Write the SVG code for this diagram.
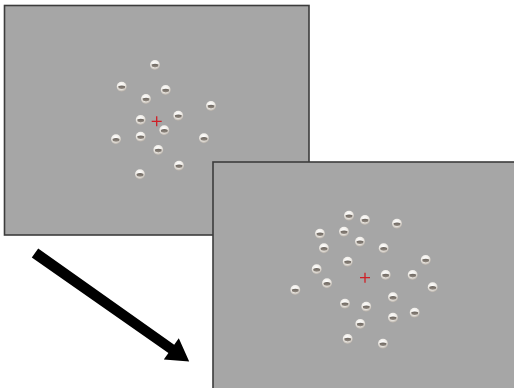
<svg xmlns="http://www.w3.org/2000/svg" xmlns:xlink="http://www.w3.org/1999/xlink" width="514" height="388" viewBox="0 0 514 388">
  <style>
    .panel { fill: #a6a6a6; stroke: #3c3c3c; stroke-width: 1.6; }
    .fix { stroke: #d01f26; stroke-width: 1.3; fill: none; }
  </style>
  <defs>
    <radialGradient id="ballShade" cx="0.45" cy="0.35" r="0.65">
      <stop offset="0" stop-color="#ffffff"/>
      <stop offset="0.6" stop-color="#eeebe6"/>
      <stop offset="1" stop-color="#b3aca4"/>
    </radialGradient>
    <linearGradient id="bandShade" x1="0" y1="0" x2="0" y2="1">
      <stop offset="0" stop-color="#5a534c"/>
      <stop offset="1" stop-color="#8a8178"/>
    </linearGradient>
    <!-- one shiny bead with a dark reflected band -->
    <g id="ball">
      <circle r="5" fill="url(#ballShade)"/>
      <path d="M-3.5,-0.4 Q0,-2.2 3.5,-0.4 L3.1,1.6 Q0,3.2 -3.1,1.6 Z" fill="url(#bandShade)" opacity="0.9"/>
    </g>
    <g id="fixation">
      <path class="fix" d="M-5,0 H5 M0,-5 V5"/>
    </g>
  </defs>

  <rect width="514" height="388" fill="#ffffff"/>

  <!-- first display -->
  <g id="display1">
    <rect class="panel" x="4.5" y="5.5" width="304.5" height="229.5"/>
    <use xlink:href="#ball" x="155" y="65"/>
    <use xlink:href="#ball" x="121.7" y="86.7"/>
    <use xlink:href="#ball" x="165.7" y="90"/>
    <use xlink:href="#ball" x="146" y="99"/>
    <use xlink:href="#ball" x="211" y="106"/>
    <use xlink:href="#ball" x="178.3" y="115.7"/>
    <use xlink:href="#ball" x="140.7" y="120"/>
    <use xlink:href="#ball" x="164.3" y="130.3"/>
    <use xlink:href="#ball" x="116" y="139.3"/>
    <use xlink:href="#ball" x="140.7" y="136.7"/>
    <use xlink:href="#ball" x="204" y="138.3"/>
    <use xlink:href="#ball" x="158.3" y="150"/>
    <use xlink:href="#ball" x="179" y="165.7"/>
    <use xlink:href="#ball" x="140" y="174.3"/>
    <use xlink:href="#fixation" x="156.7" y="121.3"/>
  </g>

  <!-- second display -->
  <g id="display2">
    <rect class="panel" x="213" y="162" width="310" height="240"/>
    <use xlink:href="#ball" x="349" y="215.7"/>
    <use xlink:href="#ball" x="365" y="220"/>
    <use xlink:href="#ball" x="397" y="223.7"/>
    <use xlink:href="#ball" x="320" y="233.7"/>
    <use xlink:href="#ball" x="344" y="231.7"/>
    <use xlink:href="#ball" x="360" y="241.7"/>
    <use xlink:href="#ball" x="383.7" y="248.3"/>
    <use xlink:href="#ball" x="324" y="248.3"/>
    <use xlink:href="#ball" x="425.7" y="260"/>
    <use xlink:href="#ball" x="347.7" y="261.7"/>
    <use xlink:href="#ball" x="316.7" y="269.3"/>
    <use xlink:href="#ball" x="385.7" y="275"/>
    <use xlink:href="#ball" x="412.7" y="275"/>
    <use xlink:href="#ball" x="327" y="283.3"/>
    <use xlink:href="#ball" x="432.7" y="287.3"/>
    <use xlink:href="#ball" x="295.3" y="290"/>
    <use xlink:href="#ball" x="393" y="297.3"/>
    <use xlink:href="#ball" x="345" y="303.7"/>
    <use xlink:href="#ball" x="366.3" y="306.7"/>
    <use xlink:href="#ball" x="414.7" y="312.7"/>
    <use xlink:href="#ball" x="393" y="317.7"/>
    <use xlink:href="#ball" x="360.3" y="324"/>
    <use xlink:href="#ball" x="347.7" y="339"/>
    <use xlink:href="#ball" x="383" y="343.7"/>
    <use xlink:href="#fixation" x="365" y="277.7"/>
  </g>

  <!-- transition arrow -->
  <g id="connectors">
    <polygon fill="#000000" points="38.2,248.5 174.2,344.7 178.8,338.2 189.2,361.6 163.8,359.4 168.4,352.9 31.8,257.5"/>
  </g>
</svg>
